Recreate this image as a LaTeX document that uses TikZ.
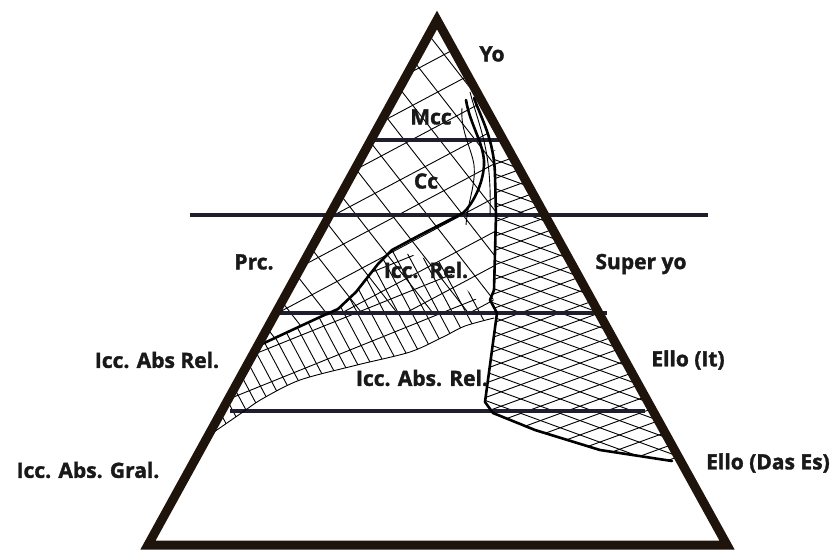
\documentclass[tikz,border=0pt]{standalone}
\usepackage{fontspec}
\setmainfont{Open Sans}[BoldFeatures={FakeBold=1.6}]
\definecolor{hcol}{RGB}{30,30,45}
\definecolor{ecol}{RGB}{30,20,12}
\begin{document}
\begin{tikzpicture}[x=1pt,y=-1pt,
  lbl/.style={font=\bfseries\fontsize{21}{21}\selectfont, inner sep=0pt, text=black!90},
  hatch/.style={line width=0.9pt, black},
  thickc/.style={line width=2.6pt, line join=round, line cap=round, black},
  hline/.style={line width=3.3pt, color=hcol},
  edge/.style={line width=9pt, line join=miter, color=ecol}]
\useasboundingbox (0,0) rectangle (835,550);
\fill[white] (0,0) rectangle (835,550);

% ---------- large grid in upper part ----------
\begin{scope}
\clip (437,20) -- (259,344) -- (320,317) -- (338,313) -- (493,313) -- (496,215) -- (495,170)
      .. controls (494,140) and (482,120) .. (474,98) -- cycle;
\foreach \i in {-30,...,30} {
  \draw[hatch, rotate around={-52:(400,180)}] (-300,180+\i*28) -- (1100,180+\i*28);
  \draw[hatch, rotate around={28:(400,180)}] (-300,180+\i*30) -- (1100,180+\i*30);
}
\end{scope}

% ---------- steep hatch in the band ----------
\begin{scope}
\clip (259,344) -- (320,317) -- (338,309) -- (356,292) -- (378,264) -- (392,250)
      -- (440,262) -- (494,318)
      -- plot[smooth] coordinates {(494,318) (465,326) (443,337) (410,352) (357,365) (300,380) (262,399) (240,414) (214,432)}
      -- cycle;
\foreach \i in {-60,...,60} {
  \draw[hatch, rotate around={-62:(350,350)}] (-300,350+\i*12) -- (1000,350+\i*12);
}
\foreach \i in {-20,...,20} {
  \draw[hatch, rotate around={22:(350,350)}] (-300,350+\i*32) -- (1000,350+\i*32);
}
\end{scope}

% ---------- cross hatch on the right ----------
\begin{scope}
\clip (494,150) -- (496,215) -- (494,290) -- (490,300) -- (497,313) -- (485,402) -- (493,413)
      -- (535,430) -- (600,450) -- (672,461) -- (681,461) -- (509,150) -- cycle;
\foreach \i in {-40,...,40} {
  \draw[hatch, rotate around={20:(580,320)}] (200,320+\i*13.5) -- (1000,320+\i*13.5);
  \draw[hatch, rotate around={-20:(580,320)}] (200,320+\i*13.5) -- (1000,320+\i*13.5);
}
\end{scope}

% ---------- horizontal level lines ----------
\draw[hline] (371,140) -- (502,140);
\draw[hline] (190,215) -- (708,215);
\draw[hline] (280,313) -- (607,313);
\draw[hline] (230,411) -- (645,411);

% ---------- thin curves ----------
\draw[hatch] plot[smooth] coordinates {(494,318) (465,326) (443,337) (410,352) (357,365) (300,380) (262,399) (240,414) (214,432)};
\draw[hatch] (470,92) .. controls (480,130) and (492,150) .. (490,215);
\draw[hatch] (462,108) .. controls (460,130) and (472,150) .. (474,165) .. controls (476,185) and (468,200) .. (466,225);

% ---------- thick boundaries ----------
\draw[thickc] (466,100) .. controls (470,125) and (485,145) .. (484,165)
  .. controls (483,185) and (472,205) .. (463,213) -- (420,235) -- (392,250) -- (378,264)
  -- (356,292) -- (338,309) -- (320,317) -- (262,344);
\draw[thickc] (474,98) .. controls (482,120) and (494,140) .. (495,175) -- (496,215) -- (494,290)
  -- (490,300) -- (497,313) -- (485,402) -- (493,413) -- (535,430) -- (600,450) -- (672,461);

% ---------- triangle ----------
\draw[edge] (437,20) -- (148,545) -- (727,545) -- cycle;

% ---------- labels ----------
\node[lbl] (yo) at (492,54) {Yo};
\node[lbl] (mcc) at (431,117) {Mcc};
\node[lbl] (cc) at (426,181) {Cc};
\node[lbl] (prc) at (254,262) {Prc.};
\node[lbl] (iccrel) at (426,270) {Icc.\ \ Rel.};
\node[lbl] (super) at (641,264) {Super yo};
\node[lbl] (absrel) at (157,360) {Icc. Abs Rel.};
\node[lbl] (absrel2) at (422,378) {Icc. Abs. Rel.};
\node[lbl] (it) at (688,360) {Ello (It)};
\node[lbl] (es) at (768,463) {Ello (Das Es)};
\node[lbl] (gral) at (88,470) {Icc. Abs. Gral.};
\end{tikzpicture}
\end{document}
